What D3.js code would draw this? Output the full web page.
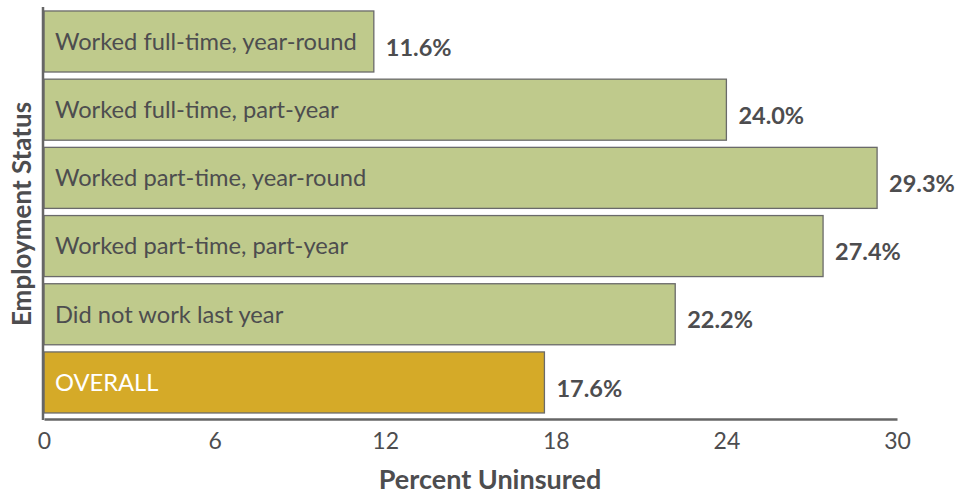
<!DOCTYPE html>
<html>
<head>
<meta charset="utf-8">
<script src="https://cdn.jsdelivr.net/npm/d3@7"></script>
<style>
  html, body { margin: 0; padding: 0; background: #fff; }
  svg { display: block; font-family: "Lato", "Open Sans", sans-serif; }
</style>
</head>
<body>
<svg id="chart" width="962" height="496"></svg>
<script>
// Uninsured rate by employment status
const categories = [
  "Worked full-time, year-round",
  "Worked full-time, part-year",
  "Worked part-time, year-round",
  "Worked part-time, part-year",
  "Did not work last year",
  "OVERALL"
];
const values = [11.6, 24.0, 29.3, 27.4, 22.2, 17.6];
const tickValues = [0, 6, 12, 18, 24, 30];

const rows = categories.map((c, i) => ({ name: c, value: values[i], overall: c === "OVERALL" }));

const svg = d3.select("#chart");
const textColor = "#4d4d4f";
const axisColor = "#666666";

const x = d3.scaleLinear().domain([0, 30]).range([44, 897]);
const y = d3.scaleBand()
  .domain(categories)
  .range([8, 419])
  .paddingInner(0.105)
  .paddingOuter(0.066)
  .align(0.33);

// bars
svg.append("g").selectAll("rect")
  .data(rows)
  .join("rect")
  .attr("x", x(0))
  .attr("y", d => y(d.name))
  .attr("width", d => x(d.value) - x(0))
  .attr("height", y.bandwidth())
  .attr("fill", d => d.overall ? "#d5aa28" : "#bfca8c")
  .attr("stroke", "#6a6a6a")
  .attr("stroke-width", 1.3);

// category labels inside bars
svg.append("g").selectAll("text")
  .data(rows)
  .join("text")
  .attr("x", x(0) + 11)
  .attr("y", d => y(d.name) + y.bandwidth() / 2)
  .attr("dy", "0.35em")
  .attr("font-size", 23.7)
  .attr("fill", d => d.overall ? "#ffffff" : textColor)
  .text(d => d.name);

// value labels
svg.append("g").selectAll("text")
  .data(rows)
  .join("text")
  .attr("x", d => x(d.value) + 12)
  .attr("y", d => y(d.name) + y.bandwidth() / 2 + 6)
  .attr("dy", "0.35em")
  .attr("font-size", 23.5)
  .attr("font-weight", "bold")
  .attr("fill", textColor)
  .text(d => d.value.toFixed(1) + "%");

// x axis
const xAxis = svg.append("g")
  .attr("transform", "translate(0,419)")
  .call(d3.axisBottom(x).tickValues(tickValues).tickSize(0).tickPadding(14).tickFormat(d3.format("d")));
xAxis.select(".domain").attr("stroke", axisColor).attr("stroke-width", 2.5);
xAxis.selectAll("text")
  .attr("font-size", 23)
  .attr("font-family", "Lato, 'Open Sans', sans-serif")
  .attr("fill", textColor);

// y axis line
svg.append("line")
  .attr("x1", x(0) - 1).attr("x2", x(0) - 1)
  .attr("y1", 7).attr("y2", 420)
  .attr("stroke", axisColor)
  .attr("stroke-width", 2.5);

// axis titles
svg.append("text")
  .attr("x", 490)
  .attr("y", 489)
  .attr("text-anchor", "middle")
  .attr("font-size", 27)
  .attr("font-weight", "bold")
  .attr("fill", textColor)
  .text("Percent Uninsured");

svg.append("text")
  .attr("transform", "translate(31,214) rotate(-90)")
  .attr("text-anchor", "middle")
  .attr("font-size", 26)
  .attr("font-weight", "bold")
  .attr("fill", textColor)
  .text("Employment Status");
</script>
</body>
</html>
